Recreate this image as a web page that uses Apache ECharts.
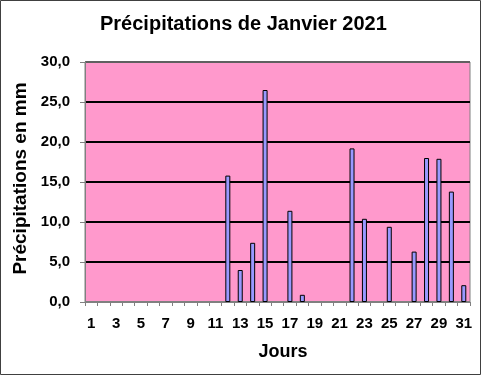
<!DOCTYPE html>
<html><head><meta charset="utf-8">
<script src="https://cdn.jsdelivr.net/npm/echarts@6/dist/echarts.min.js"></script>
<style>html,body{margin:0;padding:0;background:#fff}#c{width:481px;height:375px}</style>
</head><body><div id="c"></div>
<script>
const days = ['1','2','3','4','5','6','7','8','9','10','11','12','13','14','15','16','17','18','19','20','21','22','23','24','25','26','27','28','29','30','31'];
const rain = [0,0,0,0,0,0,0,0,0,0,0,15.8,4.0,7.4,26.5,0,11.4,0.9,0,0,0,19.2,10.4,0,9.4,0,6.3,18.0,17.9,13.8,2.1];
const yTicks = [0,5,10,15,20,25,30];
const title = 'Précipitations de Janvier 2021';
const yName = 'Précipitations en mm';
const xName = 'Jours';

const font = 'Arial, "Liberation Sans", sans-serif';
const chart = echarts.init(document.getElementById('c'), null, {renderer:'canvas'});
chart.setOption({
  animation:false,
  backgroundColor:'#fff',
  title:{text:title,left:100,top:14,padding:0,textStyle:{fontFamily:font,fontSize:20,fontWeight:'bold',color:'#000'}},
  graphic:[{type:'rect',shape:{x:0.5,y:0.5,width:480,height:374},style:{fill:'none',stroke:'#404040',lineWidth:1},z:100}],
  grid:{left:85,right:11,top:62,bottom:73,show:true,backgroundColor:'#FF99CC',borderColor:'#808080',borderWidth:1},
  xAxis:{type:'category',data:days,boundaryGap:true,
    name:xName,nameLocation:'middle',nameGap:41,
    nameTextStyle:{fontFamily:font,fontSize:18,fontWeight:'bold',color:'#000',padding:[0,0,0,11]},
    axisLine:{lineStyle:{color:'#808080',width:1}},
    axisTick:{show:true,interval:0,alignWithLabel:false,length:4,lineStyle:{color:'#808080'}},
    axisLabel:{interval:1,margin:14,fontFamily:font,fontSize:15,fontWeight:'bold',color:'#000'},
    splitLine:{show:false}},
  yAxis:{type:'value',min:yTicks[0],max:yTicks[yTicks.length-1],interval:yTicks[1]-yTicks[0],
    name:yName,nameLocation:'middle',nameGap:48,
    nameTextStyle:{fontFamily:font,fontSize:19,fontWeight:'bold',color:'#000',padding:[0,0,0,7]},
    axisLine:{show:true,lineStyle:{color:'#808080',width:1}},
    axisTick:{show:true,length:5,lineStyle:{color:'#808080'}},
    axisLabel:{margin:15,fontFamily:font,fontSize:15,fontWeight:'bold',color:'#000',
      formatter:v=>v.toFixed(1).replace('.',',')},
    splitLine:{show:true,lineStyle:{color:['#808080','#000','#000','#000','#000','#000','#606060'],width:2}}},
  series:[{type:'bar',data:rain.map(v=>v===0?null:v),barWidth:5,
    itemStyle:{color:'#9999FF',borderColor:'#000',borderWidth:1}}]
});
</script></body></html>
